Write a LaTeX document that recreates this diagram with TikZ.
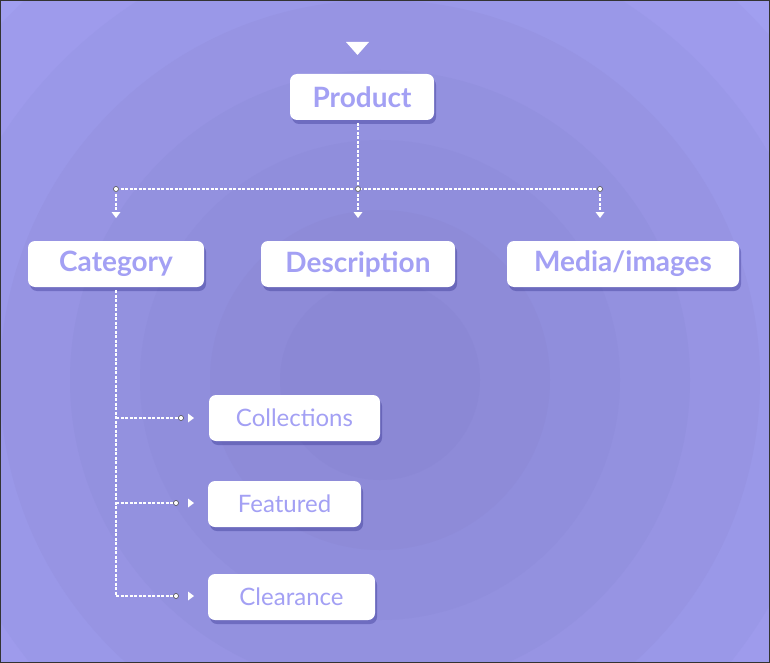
\documentclass[tikz,border=0pt]{standalone}
\usepackage{fontspec}
\setmainfont{Lato}
\usetikzlibrary{shadows,arrows.meta,calc}
\definecolor{bgin}{HTML}{8A87D4}
\definecolor{bgout}{HTML}{A19FF0}
\definecolor{txt}{HTML}{A3A0F4}
\begin{document}
\begin{tikzpicture}[x=1pt,y=-1pt,
 box/.style={fill=white,rounded corners=7pt,minimum height=46pt,inner xsep=0pt,text=txt,
   drop shadow={shadow xshift=2pt,shadow yshift=-4pt,opacity=0.25,fill=black!60!blue}},
 lvl/.style={box,font=\fontsize{28}{30}\selectfont\bfseries},
 sub/.style={box,font=\fontsize{24}{28}\selectfont},
 con/.style={white,dash pattern=on 3pt off 1.5pt,line width=1.2pt},
 dot/.style={circle,draw=black!70,fill=white,inner sep=0pt,minimum size=5pt,line width=0.6pt}]
\useasboundingbox (0,0) rectangle (770,663);
\fill[bgout] (0,0) rectangle (770,663);
\begin{scope}
\clip (0,0) rectangle (770,663);
\foreach \r/\c in {520/15,450/30,380/45,310/60,240/72,170/84,100/95}{
  \fill[bgin!\c!bgout] (380,380) circle (\r);
}
\end{scope}
\draw[black!80,line width=1pt] (0.5,0.5) rectangle (769.5,662.5);

\node[lvl,minimum width=144pt] (product) at (362,97) {Product};
\node[lvl,minimum width=176pt] (category) at (116,264) {Category};
\node[lvl,minimum width=194pt] (desc) at (358,264) {Description};
\node[lvl,minimum width=232pt] (media) at (623,264) {Media/images};
\node[sub,minimum width=171pt] (coll) at (294.5,418) {Collections};
\node[sub,minimum width=153pt] (feat) at (284.5,504) {Featured};
\node[sub,minimum width=167pt] (clear) at (291.5,597) {Clearance};

\fill[white] (346,42) -- (369,42) -- (357.5,55) -- cycle;

\coordinate (pb) at (358,123);
\coordinate (h0) at (116,189);
\coordinate (h1) at (358,189);
\coordinate (h2) at (600,189);
\draw[con] (pb) -- (h1);
\draw[con] (h0) -- (h2);
\foreach \n in {h0,h1,h2}{
  \draw[con] (\n) -- ++(0,22);
  \fill[white] ($(\n)+(-4.5,23)$) -- ++(9,0) -- ++(-4.5,6) -- cycle;
  \node[dot] at (\n) {};
}
\coordinate (cb) at (116,290);
\coordinate (v3) at (116,596);
\draw[con] (cb) -- (v3);
\foreach \y/\e in {418/181,503/176,596/176}{
  \coordinate (s) at (116,\y);
  \coordinate (e) at (\e,\y);
  \draw[con] (s) -- (e);
  \node[dot] at (e) {};
  \fill[white] (188,\y-4.5) -- ++(0,9) -- ++(6,-4.5) -- cycle;
}
\end{tikzpicture}
\end{document}
